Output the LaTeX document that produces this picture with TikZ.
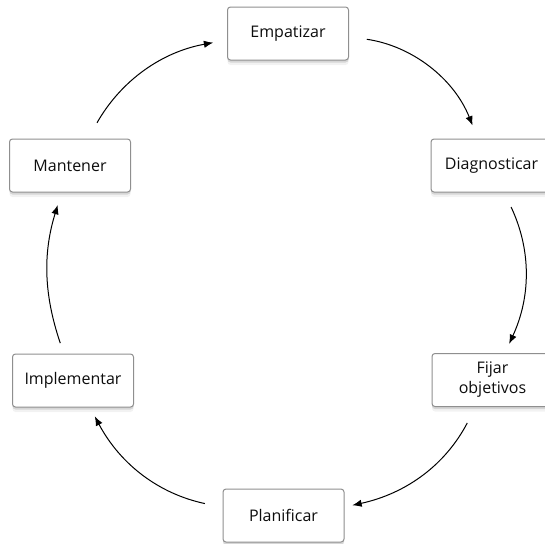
\documentclass[tikz,border=0pt]{standalone}
\usepackage{fontspec}
\setmainfont{Open Sans}
\usetikzlibrary{shadows,arrows.meta}
\newlength{\du}
\setlength{\du}{0.75pt}
\definecolor{dialinecolor}{rgb}{0.000000, 0.000000, 0.000000}
\definecolor{diaboxcolor}{rgb}{0.560000, 0.560000, 0.560000}
\definecolor{diatextcolor}{rgb}{0.050000, 0.050000, 0.050000}
\tikzset{
  stagebox/.style={draw=diaboxcolor, line width=1\du, fill=white, rounded corners=3\du,
    minimum width=121\du, minimum height=53\du, inner sep=0pt, align=center,
    font=\fontsize{12}{15}\selectfont, text=diatextcolor,
    drop shadow={shadow xshift=0pt, shadow yshift=-5\du, opacity=0.1},
    drop shadow={shadow xshift=0pt, shadow yshift=-2.5\du, opacity=0.25}},
  cyclearrow/.style={draw=dialinecolor, line width=1\du, -{Latex[length=7pt,width=5.5pt]},
    shorten >=10\du, shorten <=18\du}
}

\begin{document}
\begin{tikzpicture}
\pgftransformyscale{-1.000000}
\useasboundingbox (0\du,0\du) rectangle (545\du,543\du);
% stages
\node[stagebox] (empatizar) at (288\du,33.5\du){Empatizar};
\node[stagebox] (diagnosticar) at (491.5\du,165.5\du){Diagnosticar};
\node[stagebox] (fijar) at (492.5\du,380\du){Fijar\\objetivos};
\node[stagebox] (planificar) at (283.5\du,515.5\du){Planificar};
\node[stagebox] (implementar) at (73\du,380.5\du){Implementar};
\node[stagebox] (mantener) at (70\du,165.5\du){Mantener};
% cycle
\draw[cyclearrow,shorten >=14\du] (empatizar) to[bend right=30] (diagnosticar);
\draw[cyclearrow,shorten <=16\du] (diagnosticar) to[bend right=25] (fijar);
\draw[cyclearrow,shorten >=8\du] (fijar) to[bend right=25] (planificar);
\draw[cyclearrow] (planificar) to[bend right=25] (implementar);
\draw[cyclearrow,shorten <=11\du,shorten >=13\du] (implementar) to[bend right=18] (mantener);
\draw[cyclearrow,shorten >=14\du] (mantener) to[bend right=25] (empatizar);
\end{tikzpicture}
\end{document}
